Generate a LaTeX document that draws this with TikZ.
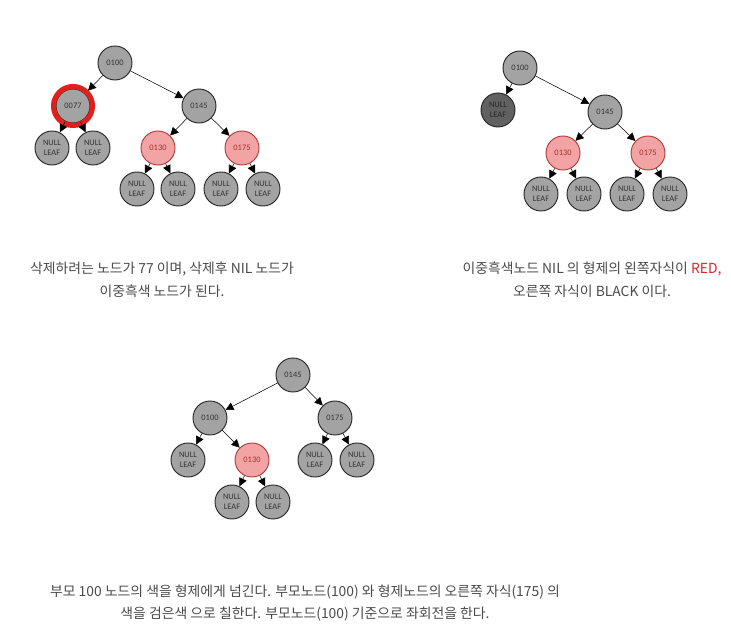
\documentclass[tikz,border=0pt]{standalone}
\usepackage{fontspec}
\setmainfont{Noto Sans CJK KR}
\newfontfamily\labelfont{Carlito}
\usepackage{xcolor}
\usetikzlibrary{positioning,arrows.meta}
\definecolor{nodegray}{HTML}{A3A3A3}
\definecolor{darkgray}{HTML}{616161}
\definecolor{pinkfill}{HTML}{F2A3A3}
\definecolor{pinkline}{HTML}{B23A3A}
\definecolor{pinktext}{HTML}{A83030}
\definecolor{captext}{HTML}{4A4A4A}
\definecolor{capred}{HTML}{D8262B}
\definecolor{ringred}{HTML}{E0201C}
\begin{document}
\begin{tikzpicture}[x=0.75pt, y=-0.75pt, >={Triangle[length=6pt,width=6pt]},
  blk/.style={circle, draw=black!85, line width=0.7pt, fill=nodegray, minimum size=25.5pt, inner sep=0pt,
    font=\labelfont\fontsize{6.3}{7.3}\selectfont, text=black!80, align=center},
  rednode/.style={blk, draw=pinkline, fill=pinkfill, text=pinktext},
  nilnode/.style={blk},
  dnil/.style={blk, fill=darkgray, text=black!85},
  caption/.style={font=\fontsize{10.4}{17}\selectfont, text=captext, align=center}]
\useasboundingbox (0,0) rectangle (731,630);
% first tree
\node[blk] (a100) at (115,63) {0100};
\node[blk] (a77) at (73,106) {0077};
\node[blk] (a145) at (199,106) {0145};
\node[nilnode] (aL1) at (52,148) {NULL\\LEAF};
\node[nilnode] (aL2) at (93,148) {NULL\\LEAF};
\node[rednode] (a130) at (158,148) {0130};
\node[rednode] (a175) at (242,148) {0175};
\node[nilnode] (aL3) at (137,189) {NULL\\LEAF};
\node[nilnode] (aL4) at (178,189) {NULL\\LEAF};
\node[nilnode] (aL5) at (221,189) {NULL\\LEAF};
\node[nilnode] (aL6) at (263,189) {NULL\\LEAF};
\draw[ringred, line width=3.8pt] (a77.center) circle (19.5);
\draw[->, shorten >=3pt] (a100) -- (a77);
\draw[->] (a100) -- (a145);
\draw[->] (a77) -- (aL1); \draw[->] (a77) -- (aL2);
\draw[->] (a145) -- (a130); \draw[->] (a145) -- (a175);
\draw[->] (a130) -- (aL3); \draw[->] (a130) -- (aL4);
\draw[->] (a175) -- (aL5); \draw[->] (a175) -- (aL6);
\node[caption] (capa) at (162,279.5) {삭제하려는 노드가 77 이며, 삭제후 NIL 노드가\\이중흑색 노드가 된다.};
% second tree
\node[blk] (b100) at (520,68) {0100};
\node[dnil] (bL0) at (498,110) {NULL\\LEAF};
\node[blk] (b145) at (605,112) {0145};
\node[rednode] (b130) at (563,153) {0130};
\node[rednode] (b175) at (648,153) {0175};
\node[nilnode] (bL1) at (541,194) {NULL\\LEAF};
\node[nilnode] (bL2) at (584,194) {NULL\\LEAF};
\node[nilnode] (bL3) at (627,194) {NULL\\LEAF};
\node[nilnode] (bL4) at (670,194) {NULL\\LEAF};
\draw[->] (b100) -- (bL0); \draw[->] (b100) -- (b145);
\draw[->] (b145) -- (b130); \draw[->] (b145) -- (b175);
\draw[->] (b130) -- (bL1); \draw[->] (b130) -- (bL2);
\draw[->] (b175) -- (bL3); \draw[->] (b175) -- (bL4);
\node[caption] (capb) at (592,279.5) {이중흑색노드 NIL 의 형제의 왼쪽자식이 \textcolor{capred}{RED,}\\오른쪽 자식이 BLACK 이다.};
% third tree
\node[blk] (c145) at (293,375) {0145};
\node[blk] (c100) at (210,418) {0100};
\node[blk] (c175) at (335,418) {0175};
\node[nilnode] (cL1) at (188,460) {NULL\\LEAF};
\node[rednode] (c130) at (252,460) {0130};
\node[nilnode] (cL2) at (315,460) {NULL\\LEAF};
\node[nilnode] (cL3) at (357,460) {NULL\\LEAF};
\node[nilnode] (cL4) at (232,502) {NULL\\LEAF};
\node[nilnode] (cL5) at (273,502) {NULL\\LEAF};
\draw[->] (c145) -- (c100); \draw[->] (c145) -- (c175);
\draw[->] (c100) -- (cL1); \draw[->] (c100) -- (c130);
\draw[->] (c175) -- (cL2); \draw[->] (c175) -- (cL3);
\draw[->] (c130) -- (cL4); \draw[->] (c130) -- (cL5);
\node[caption] (capc) at (305,603) {부모 100 노드의 색을 형제에게 넘긴다. 부모노드(100) 와 형제노드의 오른쪽 자식(175) 의\\색을 검은색 으로 칠한다. 부모노드(100) 기준으로 좌회전을 한다.};
\end{tikzpicture}
\end{document}
